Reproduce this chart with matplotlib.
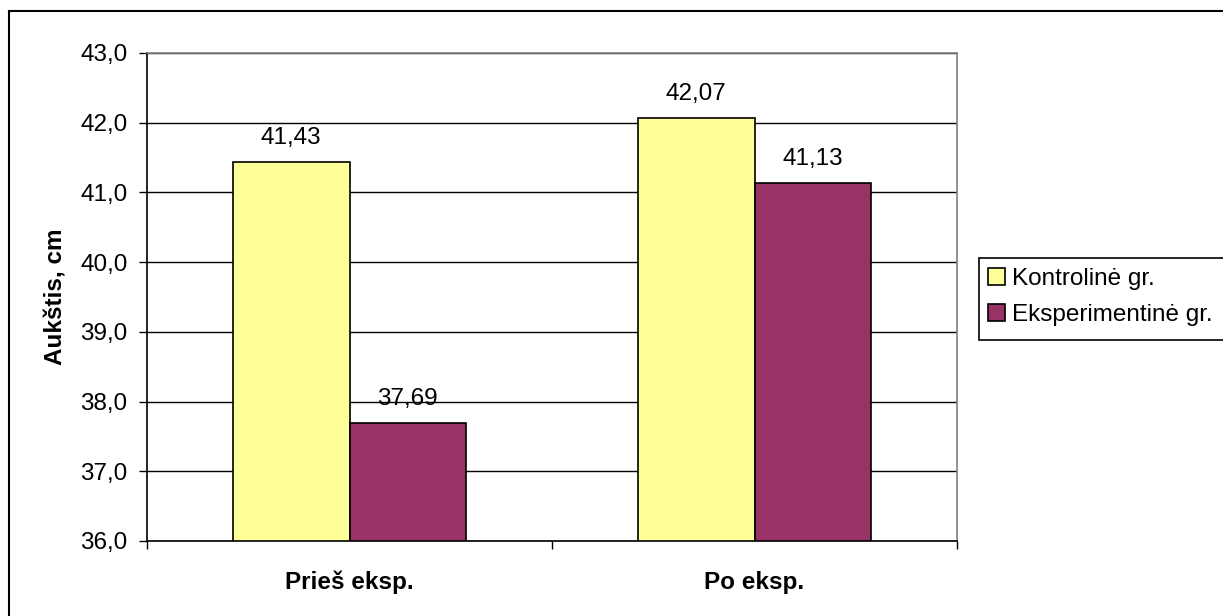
import matplotlib
matplotlib.use("Agg")
import matplotlib.pyplot as plt
from matplotlib.patches import Patch, Rectangle
from matplotlib.lines import Line2D
import numpy as np

plt.rcParams['font.family'] = ['Liberation Sans', 'DejaVu Sans']

categories = ["Prieš eksp.", "Po eksp."]
series_names = ["Kontrolinė gr.", "Eksperimentinė gr."]
kontroline = [41.43, 42.07]
eksperimentine = [37.69, 41.13]
colors = ["#FFFF99", "#993366"]
y_ticks = [36.0, 37.0, 38.0, 39.0, 40.0, 41.0, 42.0, 43.0]

FS = 17.5
W, H = 1223, 616
fig = plt.figure(figsize=(W / 100, H / 100), dpi=100)
ax = fig.add_axes([147 / W, 1 - 541 / H, (957 - 147) / W, (541 - 53) / H])

x = np.arange(len(categories))
bw = 0.2875
for i, (vals, col, name) in enumerate(zip([kontroline, eksperimentine], colors, series_names)):
    pos = x + (i - 0.5) * bw
    ax.bar(pos, [v - 36.0 for v in vals], bottom=36.0, width=bw, color=col,
           edgecolor="black", linewidth=1.2, zorder=3, label=name)
    for px, v in zip(pos, vals):
        ax.text(px, v + 0.19, f"{v:.2f}".replace(".", ","), ha="center", va="bottom",
                fontsize=FS, color="black", zorder=4)

ax.set_xlim(-0.5, 1.5)
ax.set_ylim(36, 43)
ax.set_yticks(y_ticks)
ax.set_yticklabels([f"{t:.1f}".replace(".", ",") for t in y_ticks], fontsize=FS)
ax.yaxis.grid(True, color="black", linewidth=1.0, zorder=0)
ax.set_axisbelow(True)

# category labels centred, tick marks at category boundaries
ax.set_xticks([-0.5, 0.5, 1.5])
ax.set_xticklabels([])
ax.tick_params(axis="x", direction="out", length=6, width=1, color="black")
ax.tick_params(axis="y", direction="out", length=6, width=1, color="black", pad=8)
for xi, lab in zip(x, categories):
    ax.text(xi, -(582 - 541) / (541 - 53), lab, transform=ax.get_xaxis_transform(),
            ha="center", va="center", fontsize=FS, fontweight="bold")

ax.set_ylabel("Aukštis, cm", fontsize=FS, fontweight="bold")
ax.yaxis.set_label_coords((67 - 147) / (957 - 147), 0.5)

for s in ["top", "right"]:
    ax.spines[s].set_color("#808080")
    ax.spines[s].set_linewidth(1.2)
for s in ["left", "bottom"]:
    ax.spines[s].set_color("black")
    ax.spines[s].set_linewidth(1.2)

# outer chart border (left and top edges inside the canvas)
fig.add_artist(Line2D([8.5 / W, 8.5 / W], [1 - 10.5 / H, -0.1], transform=fig.transFigure,
                      color="black", linewidth=1.5))
fig.add_artist(Line2D([8.5 / W, 1.1], [1 - 10.5 / H, 1 - 10.5 / H], transform=fig.transFigure,
                      color="black", linewidth=1.5))

# legend box
fig.add_artist(Rectangle((978.5 / W, 1 - 339.5 / H), (1300 - 978) / W, (339 - 257) / H,
                         transform=fig.transFigure, facecolor="white", edgecolor="black",
                         linewidth=1.2, clip_on=False))
handles = [Patch(facecolor=c, edgecolor="black", linewidth=1.2) for c in colors]
leg = fig.legend(handles, series_names, loc="center left",
                 bbox_to_anchor=(988 / W, 1 - 297 / H), frameon=False, fontsize=FS,
                 handlelength=0.7, handleheight=0.7, handletextpad=0.3,
                 labelspacing=0.6, borderaxespad=0, borderpad=0.0)

fig.savefig("out.png", dpi=100)
